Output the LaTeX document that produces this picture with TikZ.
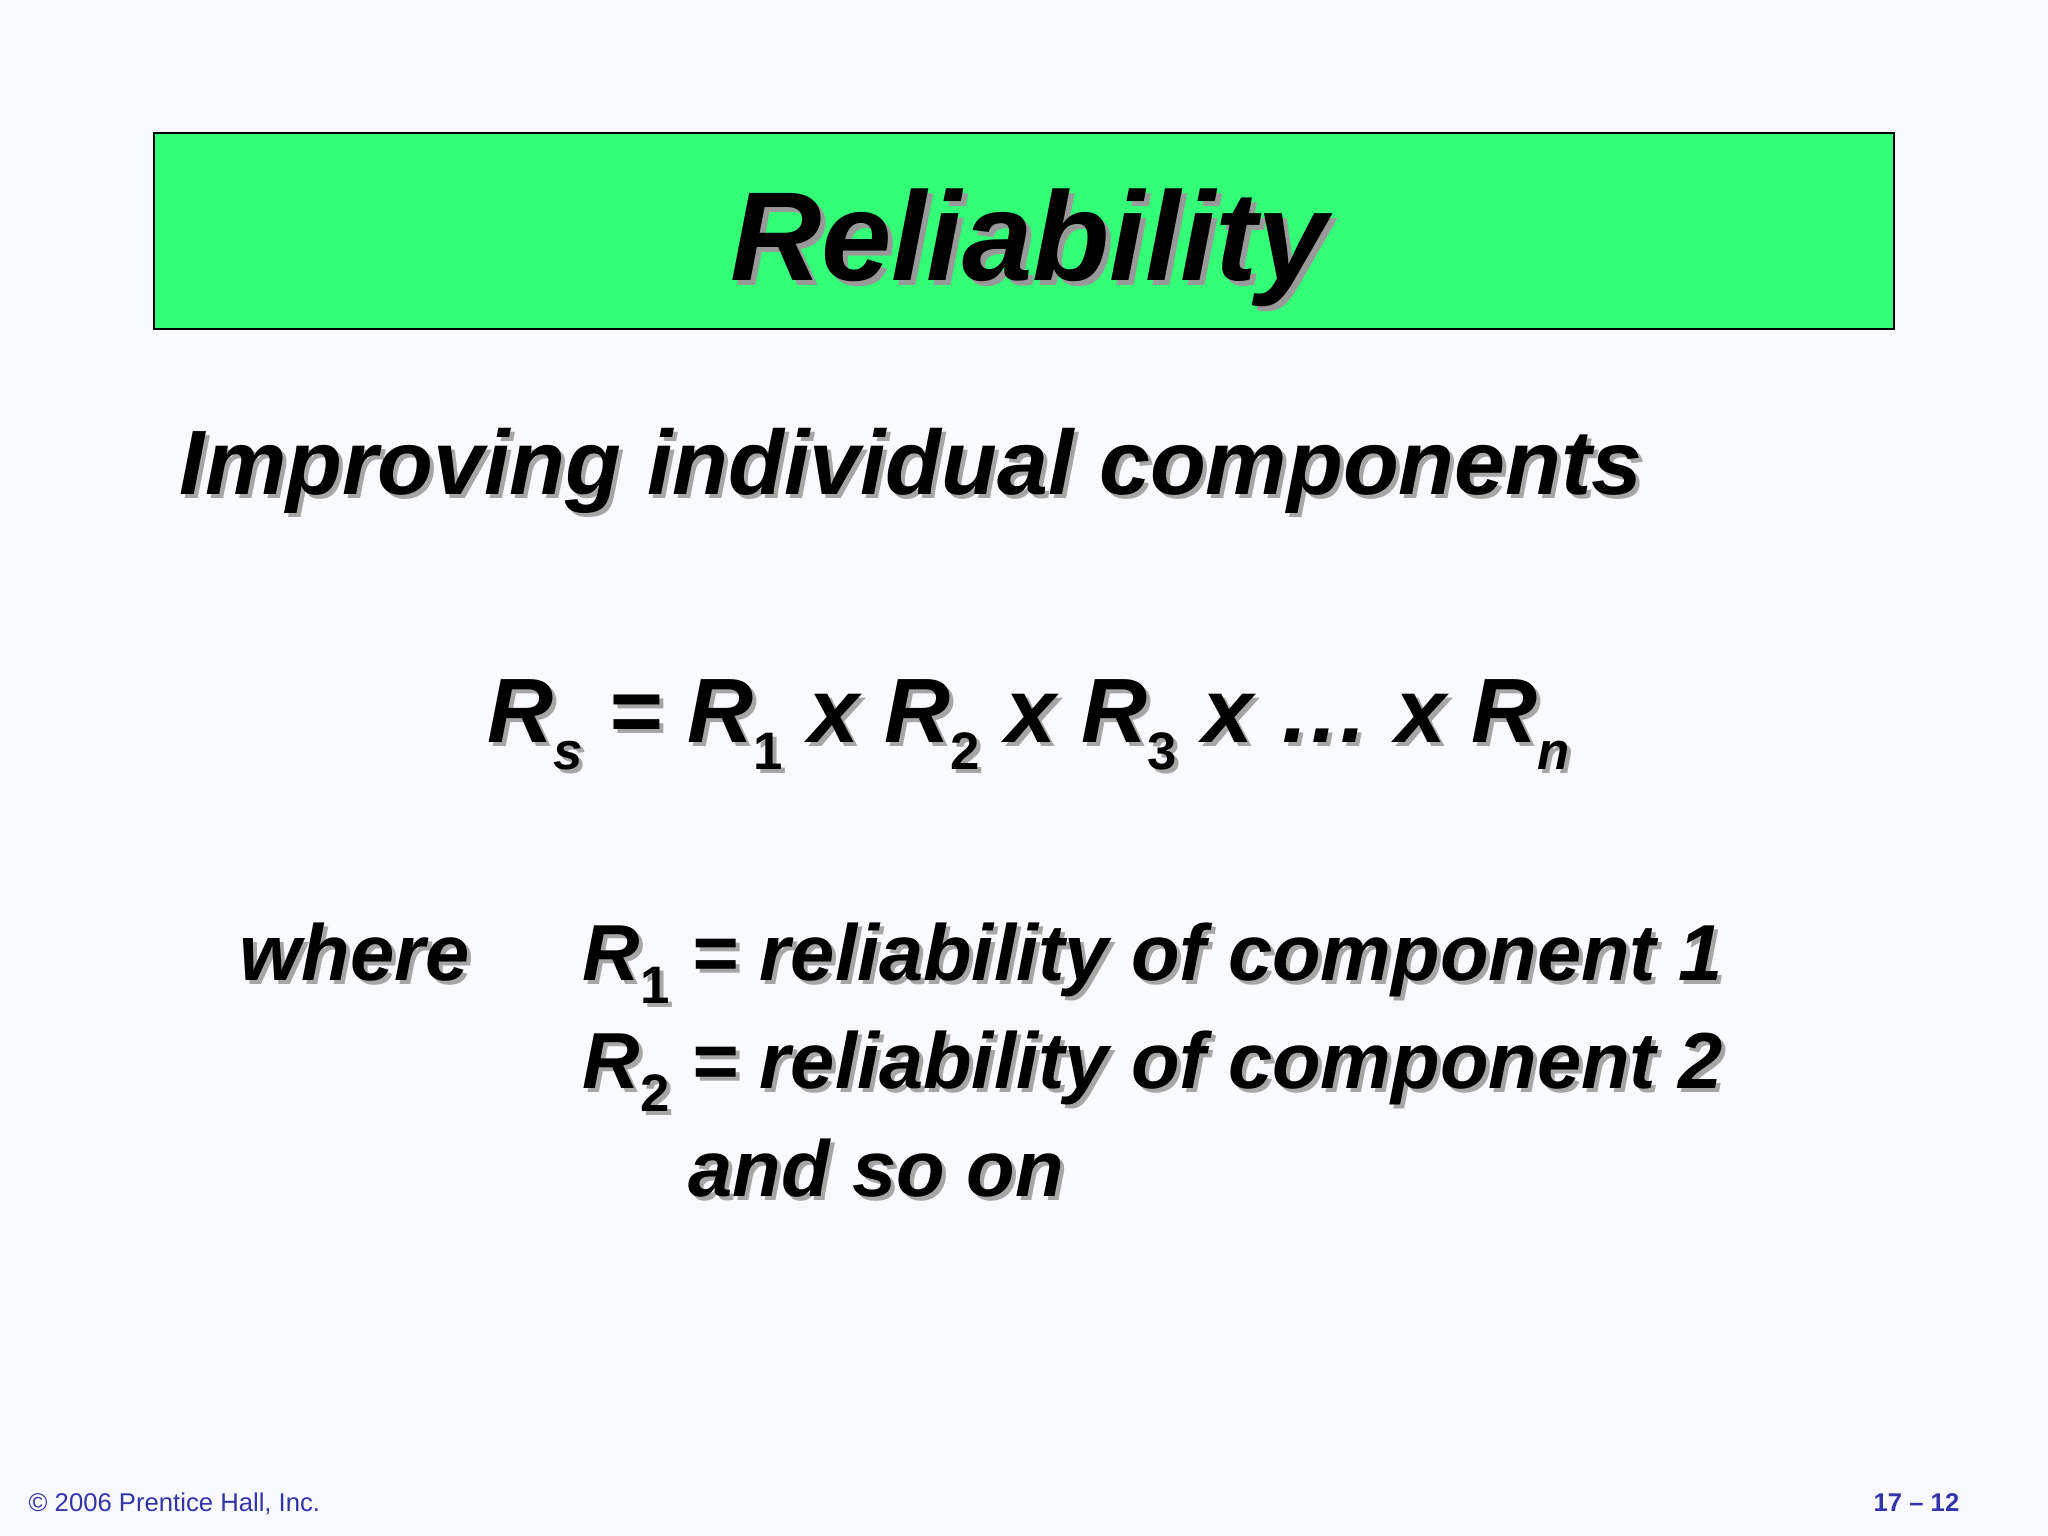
\documentclass[tikz,border=0pt]{standalone}
\usepackage{fontspec}
\setmainfont{Liberation Sans}
\definecolor{bg}{HTML}{F8FAFF}
\definecolor{titlegreen}{HTML}{33FF77}
\definecolor{footblue}{HTML}{3333AA}
\newcommand{\sbn}[1]{\raisebox{-0.3em}{\fontsize{15}{15}\selectfont\textup{#1}}}
\newcommand{\sbi}[1]{\raisebox{-0.3em}{\fontsize{15}{15}\selectfont #1}}
\newcommand{\stext}[5]{%
  \node[#5,text=black!35,anchor=#3] at ($(#2)+(4,4)$) {#4};
  \node[#5,anchor=#3] (#1) at (#2) {#4};}
\usetikzlibrary{calc}
\begin{document}
\begin{tikzpicture}[x=0.01cm,y=-0.01cm,
  txt/.style={inner sep=0pt,font=\fontsize{26}{30}\selectfont\bfseries\itshape},
  txs/.style={inner sep=0pt,font=\fontsize{22.6}{26}\selectfont\bfseries\itshape}]
\fill[bg] (0,0) rectangle (2048,1536);
\useasboundingbox (0,0) rectangle (2048,1536);
\draw[black,line width=0.8pt,fill=titlegreen] (154,133) rectangle (1894,329);
\coordinate (tp) at (1029,280);
\node[inner sep=0pt,anchor=base,text=black!40,font=\fontsize{36}{40}\selectfont\bfseries\itshape] at ($(tp)+(5,5)$) {Reliability};
\node[inner sep=0pt,anchor=base,font=\fontsize{36}{40}\selectfont\bfseries\itshape] (title) at (tp) {Reliability};
\coordinate (p1) at (179,494);
\stext{sub}{p1}{base west}{Improving individual components}{txt}
\coordinate (p2) at (487,742);
\stext{eq}{p2}{base west}{R\sbi{s} = R\sbn{1} x R\sbn{2} x R\sbn{3} x … x R\sbi{n}}{txt}
\coordinate (p3) at (239,980);
\stext{where}{p3}{base west}{where}{txs}
\coordinate (p4) at (582,980);
\stext{l1}{p4}{base west}{R\sbn{1} = reliability of component 1}{txs}
\coordinate (p5) at (582,1088);
\stext{l2}{p5}{base west}{R\sbn{2} = reliability of component 2}{txs}
\coordinate (p6) at (688,1196);
\stext{l3}{p6}{base west}{and so on}{txs}
\node[inner sep=0pt,anchor=base west,text=footblue,font=\fontsize{7.3}{9}\selectfont] (copy) at (28,1511) {© 2006 Prentice Hall, Inc.};
\node[inner sep=0pt,anchor=base east,text=footblue,font=\fontsize{7.3}{9}\selectfont\bfseries] (page) at (1960,1511) {17 – 12};
\end{tikzpicture}
\end{document}
